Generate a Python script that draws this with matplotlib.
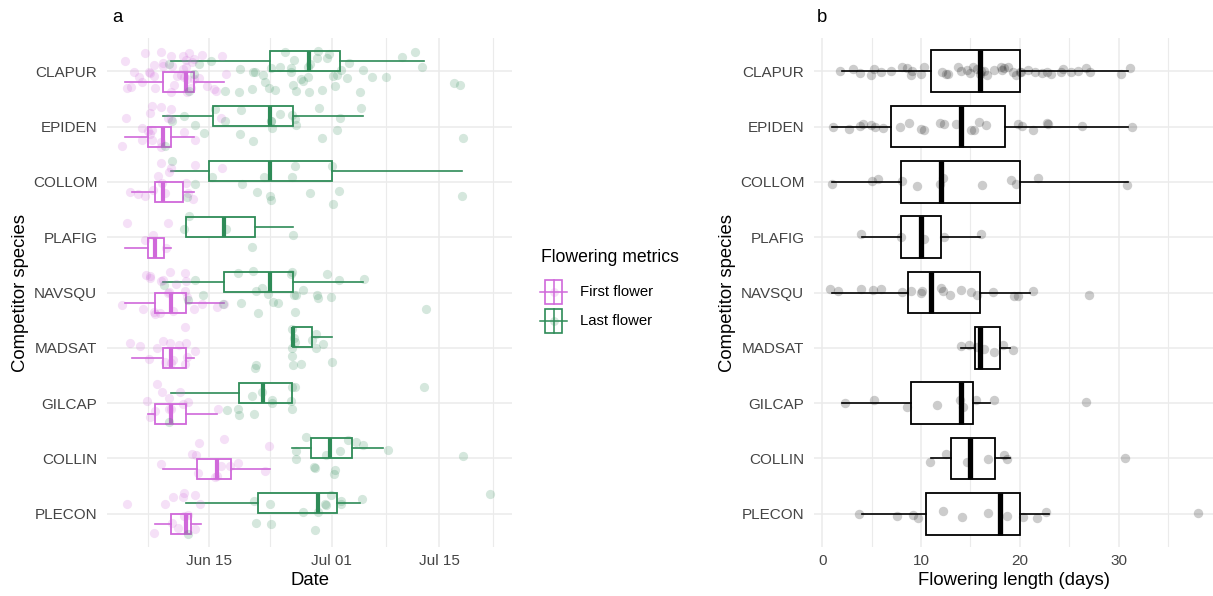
import numpy as np
import matplotlib.pyplot as plt
import matplotlib.dates as mdates
from matplotlib.patches import Rectangle
from datetime import date

plt.rcParams['font.family'] = ['Liberation Sans', 'DejaVu Sans']

species = ["CLAPUR", "EPIDEN", "COLLOM", "PLAFIG", "NAVSQU",
           "MADSAT", "GILCAP", "COLLIN", "PLECON"]

# dates as day of June (Jul 01 = 31)
# box stats: whisker low, q1, median, q3, whisker high
first_box = [[4, 9, 12, 13, 17], [4, 7, 9, 10, 13], [5, 8, 9, 11.6, 13],
             [4, 7, 8, 9.1, 10], [4, 8, 10, 12, 17], [5, 9, 10, 12, 13],
             [7, 8, 10, 12, 16], [9, 13.4, 16, 17.9, 23], [8, 10, 12, 12.7, 14]]
last_box = [[10, 23, 28, 32, 43], [9, 15.5, 23, 26, 35], [10, 15, 23, 31, 48],
            [12, 12, 17, 21, 26], [9, 17, 23, 26, 35], [26, 26, 26, 28.4, 31],
            [10, 18.9, 22, 25.8, 25.8], [25.8, 28.3, 30.8, 33.6, 37.7],
            [12, 21.4, 29.2, 31.7, 34.7]]

first_days = [
    [4, 4, 5, 5, 6, 6, 7, 7, 7, 8, 8, 8, 9, 9, 9, 10, 10, 10, 10, 11, 11, 12, 12,
     12, 12, 12, 12, 12, 12, 13, 13, 13, 13, 14, 14, 15, 16, 16, 17, 17],
    [4, 4, 6, 6, 7, 7, 7, 8, 8, 8, 9, 9, 9, 10, 10, 10, 12, 13, 17],
    [5, 6, 7, 8, 8, 9, 9, 9, 10, 10, 12, 12, 13, 13, 17],
    [4, 7, 8, 9, 10],
    [4, 6, 7, 7, 7, 8, 8, 9, 9, 9, 10, 10, 10, 10, 11, 12, 12, 12, 12, 13, 14, 16, 17],
    [5, 6, 7, 8, 9, 9, 10, 10, 10, 11, 12, 12, 12, 12, 13],
    [7, 7, 8, 8, 9, 10, 10, 10, 11, 12, 12, 16],
    [9, 13, 13, 14, 14, 16, 16, 17, 17, 18, 19, 22, 23],
    [4, 8, 9, 10, 10, 11, 12, 12, 12, 12, 13, 13, 14],
]
last_days = [
    [10, 12, 13, 14, 15, 17, 19, 19, 21, 21, 21, 22, 22, 23, 23, 24, 24, 25, 26, 26,
     26, 26, 26, 27, 27, 28, 28, 28, 28, 29, 29, 30, 30, 31, 31, 31, 32, 32, 33, 33,
     35, 35, 36, 38, 40, 42, 43, 47, 48],
    [9, 10, 12, 13, 14, 16, 17, 19, 19, 21, 23, 23, 23, 24, 26, 26, 26, 29, 30, 32,
     32, 35, 48],
    [10, 12, 13, 15, 19, 21, 22, 23, 23, 26, 26, 28, 31, 31, 32, 48],
    [12, 12, 17, 21, 26],
    [9, 12, 13, 14, 17, 19, 19, 21, 21, 21, 22, 23, 23, 24, 26, 26, 26, 26, 26, 27,
     29, 29, 30, 31, 32, 35, 43],
    [21, 21, 26, 26, 26, 26, 26, 26, 27, 28, 29, 29, 30, 31],
    [10, 17, 19, 19, 21, 21, 22, 23, 23, 26, 26, 26, 26, 43],
    [26, 26, 28, 29, 29, 30, 31, 31, 32, 33, 34, 35, 38, 48],
    [12, 21, 21, 23, 23, 27, 29, 29, 30, 30, 31, 32, 32, 35, 52],
]

length_box = [[2, 11, 16, 20, 31], [1, 7, 14, 18.5, 31], [1, 8, 12, 20, 31],
              [4, 8, 10, 12, 16], [1, 8.7, 11, 16, 21], [14, 15.5, 16, 18, 19],
              [2, 9, 14, 15.3, 17], [11, 13, 15, 17.5, 19], [4, 10.5, 18, 20, 23]]
length_days = [
    [1.8, 3.1, 3.8, 4.9, 5.2, 5.9, 7.0, 8.1, 8.6, 9.0, 9.1, 10.0, 10.3, 12.1, 12.5,
     12.7, 13.7, 14.0, 14.6, 15.0, 15.3, 15.7, 16.0, 16.1, 16.4, 16.7, 17.4, 18.1,
     18.2, 18.4, 18.8, 19.3, 19.6, 20.0, 20.1, 20.8, 21.5, 22.2, 22.8, 23.2, 24.2,
     24.4, 25.2, 25.9, 26.7, 27.1, 30.3, 31.2],
    [1.1, 2.7, 3.8, 4.1, 4.9, 5.3, 6.1, 7.9, 8.8, 10.0, 10.3, 11.9, 12.3, 13.5,
     15.1, 15.4, 15.9, 16.6, 19.8, 20.2, 21.3, 22.8, 22.9, 26.3, 31.4],
    [1.0, 5.0, 5.6, 8.1, 9.6, 11.9, 12.2, 16.2, 19.1, 19.6, 21.8, 30.9],
    [3.9, 8.0, 10.3, 12.3, 16.1],
    [0.8, 1.6, 3.9, 5.1, 5.9, 8.1, 9.0, 10.0, 10.1, 12.0, 12.2, 12.9, 14.0, 15.1,
     15.7, 17.3, 19.4, 19.8, 21.3, 27.0],
    [14.0, 14.9, 15.7, 16.4, 17.4, 18.3, 19.3],
    [2.3, 5.2, 8.6, 11.6, 13.9, 14.2, 15.6, 17.4, 26.7],
    [10.9, 12.5, 14.7, 16.8, 18.4, 18.7, 30.7],
    [3.7, 7.6, 9.2, 9.7, 12.2, 14.1, 16.8, 18.7, 20.3, 21.7, 22.7, 38.0],
]

pink = '#D068DA'
green = '#2E8B57'
grid_col = '#EBEBEB'
base = mdates.date2num(date(2021, 5, 31))

W, H = 1213, 596
fig = plt.figure(figsize=(W / 100, H / 100), dpi=100)
ax1 = fig.add_axes([107 / W, 1 - 547 / H, 405 / W, 509 / H])
ax2 = fig.add_axes([814 / W, 1 - 547 / H, 399 / W, 509 / H])


def to_stats(rows, shift=0):
    out = []
    for r in rows:
        out.append(dict(whislo=r[0] + shift, q1=r[1] + shift, med=r[2] + shift,
                        q3=r[3] + shift, whishi=r[4] + shift, fliers=[]))
    return out


def draw_boxes(ax, stats, pos, width, col, med_lw):
    ax.bxp(stats, positions=pos, widths=width, orientation='horizontal',
           showcaps=False, showfliers=False, patch_artist=True, manage_ticks=False,
           boxprops=dict(facecolor='white', edgecolor=col, lw=1.3),
           whiskerprops=dict(color=col, lw=1.2),
           medianprops=dict(color=col, lw=med_lw, solid_capstyle='butt'),
           zorder=2)


rng = np.random.default_rng(7)
ypos = np.arange(len(species))

# panel a
draw_boxes(ax1, to_stats(last_box, base), ypos - 0.19, 0.36, green, 3.0)
draw_boxes(ax1, to_stats(first_box, base), ypos + 0.19, 0.36, pink, 3.0)
for i in range(len(species)):
    for vals, col in ((first_days[i], pink), (last_days[i], green)):
        v = np.array(vals, dtype=float)
        jx = rng.uniform(-0.4, 0.4, len(v))
        jy = rng.uniform(-0.4, 0.4, len(v))
        ax1.scatter(base + v + jx, i + jy, s=44, color=col, alpha=0.2,
                    linewidths=0, zorder=3)

ax1.set_xlim(base + 1.72, base + 54.45)
ax1.xaxis.set_major_locator(mdates.DayLocator(bymonthday=[1, 15]))
ax1.xaxis.set_major_formatter(mdates.DateFormatter('%b %d'))
ax1.set_xticks([base + d for d in (7, 23, 38, 52)], minor=True)
ax1.set_xlabel('Date', fontsize=13.3, labelpad=3)

# panel b
draw_boxes(ax2, to_stats(length_box), ypos, 0.75, 'black', 3.8)
for i in range(len(species)):
    v = np.array(length_days[i])
    jy = rng.uniform(-0.08, 0.08, len(v))
    ax2.scatter(v, i + jy, s=46, color='black', alpha=0.2, linewidths=0, zorder=3)

ax2.set_xlim(-0.85, 39.57)
ax2.set_xticks([0, 10, 20, 30])
ax2.set_xticks([5, 15, 25, 35], minor=True)
ax2.set_xlabel('Flowering length (days)', fontsize=13.3, labelpad=3)

for ax in (ax1, ax2):
    ax.set_ylim(len(species) - 0.4, -0.6)
    ax.set_yticks(ypos)
    ax.set_yticklabels(species)
    ax.set_ylabel('Competitor species', fontsize=13.3, labelpad=3)
    ax.grid(True, which='major', color=grid_col, lw=1.1, zorder=0)
    ax.grid(True, which='minor', axis='x', color=grid_col, lw=0.8, zorder=0)
    ax.set_axisbelow(True)
    ax.tick_params(which='both', length=0, labelsize=11, labelcolor='#444444')
    ax.tick_params(axis='y', pad=7)
    ax.tick_params(axis='x', pad=5)
    for s in ax.spines.values():
        s.set_visible(False)

fig.text(112 / W, 1 - 17 / H, 'a', fontsize=13.3, va='center')
fig.text(817 / W, 1 - 17 / H, 'b', fontsize=13.3, va='center')

# legend
leg = fig.add_axes([530 / W, 1 - 345 / H, 170 / W, 105 / H])
leg.set_xlim(530, 700)
leg.set_ylim(345, 240)
leg.axis('off')
leg.text(541, 258, 'Flowering metrics', fontsize=12.7, va='center')
for yc, col, lab in ((292, pink, 'First flower'), (321, green, 'Last flower')):
    leg.plot([540, 567], [yc, yc], color=col, lw=1.1)
    leg.add_patch(Rectangle((545, yc - 12), 17, 24, facecolor='white',
                            edgecolor=col, lw=1.2))
    leg.plot([553.5, 553.5], [yc - 12, yc + 12], color=col, lw=1.1)
    leg.scatter([553.5], [yc], s=40, color=col, alpha=0.2, linewidths=0)
    leg.text(580, yc, lab, fontsize=10.7, va='center')

fig.savefig('out.png', dpi=100)
